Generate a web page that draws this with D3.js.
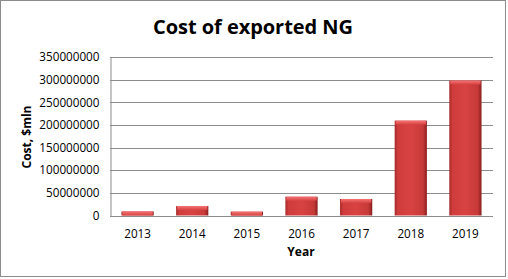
<!DOCTYPE html>
<html>
<head>
<meta charset="utf-8">
<script src="https://cdn.jsdelivr.net/npm/d3@7"></script>
<style>
  body { margin: 0; background: #fff; }
  text { font-family: "Open Sans", sans-serif; fill: #000; }
  .grid line { stroke: #8c8c8c; stroke-width: 1; }
  .axis path, .axis line { stroke: #8c8c8c; }
  .axis text { font-size: 11.7px; }
</style>
</head>
<body>
<div id="chart"></div>
<script>
// data
const years = ["2013", "2014", "2015", "2016", "2017", "2018", "2019"];
const costs = [9000000, 21000000, 8500000, 41500000, 36500000, 209500000, 298000000];
const yTicks = [0, 50000000, 100000000, 150000000, 200000000, 250000000, 300000000, 350000000];

const width = 508, height = 279;
const margin = {top: 57, right: 15, bottom: 64, left: 110};

let svg = d3.select("#chart").append("svg")
    .attr("width", width)
    .attr("height", height);

// outer chart border
svg.append("rect")
    .attr("x", 0.5).attr("y", 0.5)
    .attr("width", width - 3).attr("height", height - 3)
    .attr("fill", "#fff")
    .attr("stroke", "#8c8c8c");

let defs = svg.append("defs");
let grad = defs.append("linearGradient").attr("id", "barGrad")
    .attr("x1", "0").attr("x2", "1").attr("y1", "0").attr("y2", "0");
grad.append("stop").attr("offset", "0%").attr("stop-color", "#a82a2a");
grad.append("stop").attr("offset", "10%").attr("stop-color", "#cf3c3c");
grad.append("stop").attr("offset", "50%").attr("stop-color", "#d84242");
grad.append("stop").attr("offset", "88%").attr("stop-color", "#c63a38");
grad.append("stop").attr("offset", "100%").attr("stop-color", "#8a1e1e");

let topGrad = defs.append("linearGradient").attr("id", "topGrad")
    .attr("x1", "0").attr("x2", "0").attr("y1", "0").attr("y2", "1");
topGrad.append("stop").attr("offset", "0%").attr("stop-color", "#f47474");
topGrad.append("stop").attr("offset", "100%").attr("stop-color", "#d84242");

let xScale = d3.scaleBand()
    .domain(years)
    .range([margin.left, width - margin.right])
    .paddingInner(0.41)
    .paddingOuter(0.21);

let yScale = d3.scaleLinear()
    .domain([0, 350000000])
    .range([height - margin.bottom + 0.5, margin.top]);

// gridlines
svg.append("g").attr("class", "grid")
    .selectAll("line")
    .data(yTicks.slice(1))
    .enter().append("line")
    .attr("x1", margin.left)
    .attr("x2", width - margin.right)
    .attr("y1", d => Math.round(yScale(d)) + 0.5)
    .attr("y2", d => Math.round(yScale(d)) + 0.5);

// y axis
let yAxis = d3.axisLeft(yScale).tickValues(yTicks).tickSize(0).tickFormat(d3.format("d"));
svg.append("g").attr("class", "axis")
    .attr("transform", "translate(" + (margin.left + 0.5) + ",0)")
    .call(yAxis)
    .call(g => g.selectAll("text").attr("x", -11));

// x axis
let xAxis = d3.axisBottom(xScale).tickSize(0);
svg.append("g").attr("class", "axis")
    .attr("transform", "translate(0," + (Math.round(yScale(0)) + 0.5) + ")")
    .call(xAxis)
    .call(g => g.select(".domain").attr("d", "M" + margin.left + ",0H" + (width - margin.right)))
    .call(g => g.selectAll("text").attr("dy", "0").attr("y", 21));

// bars
let bars = svg.append("g").selectAll("g")
    .data(costs)
    .enter().append("g");

bars.append("rect")
    .attr("x", (d, i) => xScale(years[i]))
    .attr("y", d => yScale(d))
    .attr("width", xScale.bandwidth())
    .attr("height", d => yScale(0) - yScale(d))
    .attr("fill", "url(#barGrad)");

// bevel on top of each bar
bars.append("rect")
    .attr("x", (d, i) => xScale(years[i]) + 1)
    .attr("y", d => yScale(d))
    .attr("width", xScale.bandwidth() - 2)
    .attr("height", d => Math.min(4, yScale(0) - yScale(d)))
    .attr("fill", "url(#topGrad)");

// title and labels
svg.append("text")
    .attr("x", 253).attr("y", 34)
    .attr("text-anchor", "middle")
    .style("font-size", "20px").style("font-weight", "bold")
    .attr("textLength", 200)
    .text("Cost of exported NG");

svg.append("text")
    .attr("text-anchor", "middle")
    .attr("transform", "translate(31," + 137 + ") rotate(-90)")
    .style("font-size", "12px").style("font-weight", "bold")
    .text("Cost, $mln");

svg.append("text")
    .attr("x", 301).attr("y", 256)
    .attr("text-anchor", "middle")
    .style("font-size", "12px").style("font-weight", "bold")
    .text("Year");
</script>
</body>
</html>
